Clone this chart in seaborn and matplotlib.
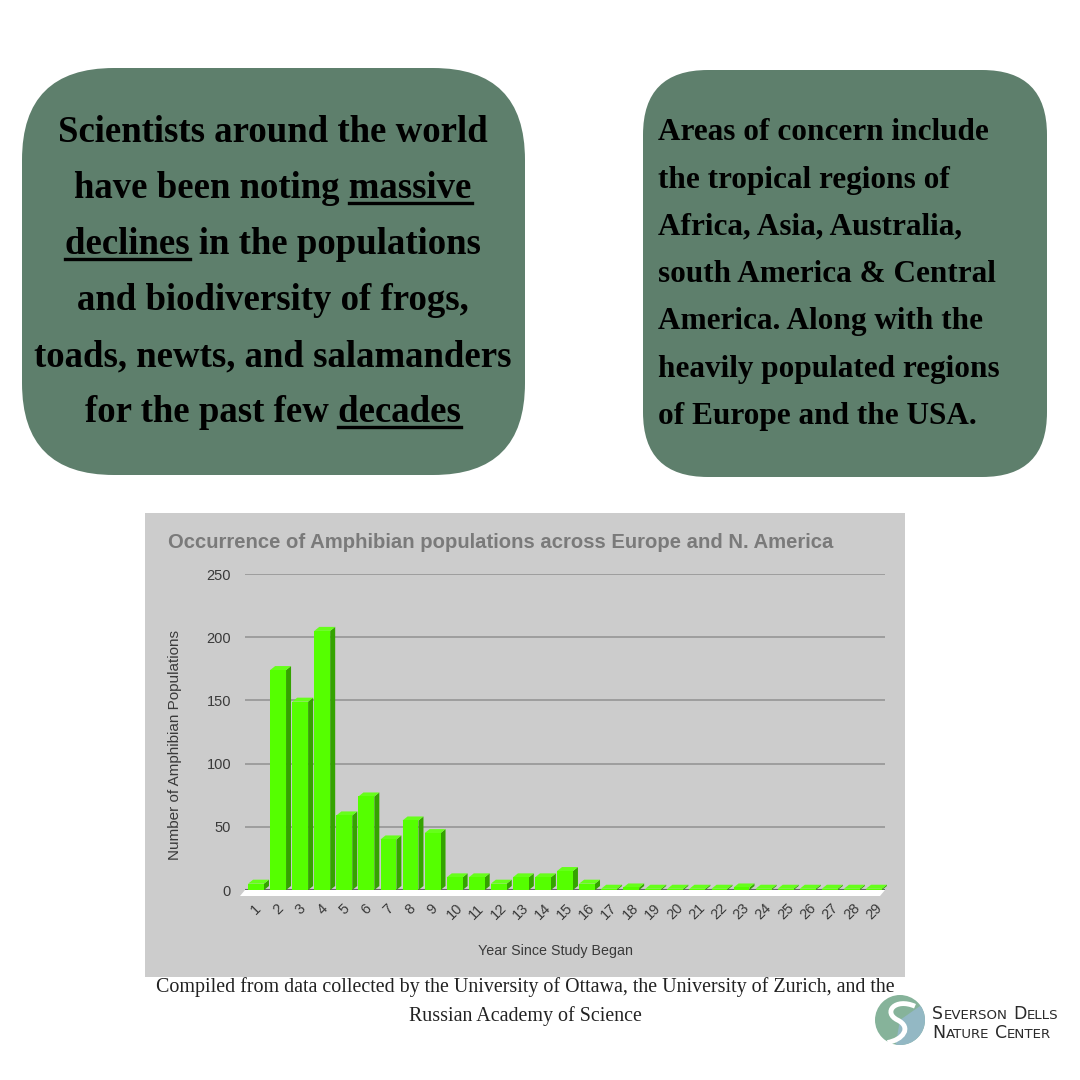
import matplotlib
matplotlib.use("Agg")
import numpy as np
import pandas as pd
import seaborn as sns
import matplotlib.pyplot as plt
from matplotlib.patches import FancyBboxPatch, Polygon, Rectangle, Circle, Wedge, PathPatch
from matplotlib.path import Path
from matplotlib.lines import Line2D

# chart data
years = ["1", "2", "3", "4", "5", "6", "7", "8", "9", "10", "11", "12", "13", "14", "15",
         "16", "17", "18", "19", "20", "21", "22", "23", "24", "25", "26", "27", "28", "29"]
populations = [5, 174, 149, 205, 59, 74, 40, 55, 45, 10, 10, 5, 10, 10, 15,
               5, 1, 2, 1, 1, 1, 1, 2, 1, 1, 1, 1, 1, 1]
y_ticks = [0, 50, 100, 150, 200, 250]

chart_title = "Occurrence of Amphibian populations across Europe and N. America"
x_label = "Year Since Study Began"
y_label = "Number of Amphibian Populations"

left_lines = ["Scientists around the world", "have been noting massive",
              "declines in the populations", "and biodiversity of frogs,",
              "toads, newts, and salamanders", "for the past few decades"]
# (line index, word, at start or end of line)
left_underlines = [(1, "massive", "end"), (2, "declines", "start"), (5, "decades", "end")]

right_lines = ["Areas of concern include", "the tropical regions of",
               "Africa, Asia, Australia,", "south America & Central",
               "America. Along with the", "heavily populated regions",
               "of Europe and the USA."]

footer_lines = ["Compiled from data collected by the University of Ottawa, the University of Zurich, and the",
                "Russian Academy of Science"]

logo_lines = [["Severson", "Dells"], ["Nature", "Center"]]

BOX_GREEN = "#5e7f6c"
SERIF = "Liberation Serif"
SANS = "Liberation Sans"
LEFT_SIZE = 26.5

plt.rcParams["font.family"] = SANS

W = 1080.0


def fx(px):
    return px / W


def fy(py):
    return 1 - py / W


fig = plt.figure(figsize=(10.8, 10.8), dpi=100)
fig.patch.set_facecolor("white")

# rounded green boxes
box1 = FancyBboxPatch((fx(22), fy(475)), fx(525) - fx(22), fy(68) - fy(475),
                      boxstyle="round,pad=0,rounding_size=0.085",
                      transform=fig.transFigure, facecolor=BOX_GREEN, edgecolor="none")
box2 = FancyBboxPatch((fx(643), fy(477)), fx(1047) - fx(643), fy(70) - fy(477),
                      boxstyle="round,pad=0,rounding_size=0.06",
                      transform=fig.transFigure, facecolor=BOX_GREEN, edgecolor="none")
fig.add_artist(box1)
fig.add_artist(box2)

left_texts = []
for i, line in enumerate(left_lines):
    t = fig.text(fx(273), fy(133 + 56 * i), line, ha="center", va="center",
                 fontsize=LEFT_SIZE, fontweight="bold", family=SERIF, color="black")
    left_texts.append(t)

for i, line in enumerate(right_lines):
    fig.text(fx(658), fy(133 + 47.2 * i), line, ha="left", va="center",
             fontsize=22.5, fontweight="bold", family=SERIF, color="black")

# gray chart panel
fig.add_artist(Rectangle((fx(145), fy(977)), fx(905) - fx(145), fy(513) - fy(977),
                         transform=fig.transFigure, facecolor="#cccccc", edgecolor="none",
                         zorder=0))

fig.text(fx(168), fy(542), chart_title, ha="left", va="center", color="#7a7a7a",
         fontsize=14.6, fontweight="bold", family=SANS)

ax = fig.add_axes([fx(245), fy(890), fx(885) - fx(245), fy(574) - fy(890)])
ax.set_facecolor("none")

df = pd.DataFrame({"year": years, "populations": populations})
sns.barplot(data=df, x="year", y="populations", color="#55ff00", saturation=1,
            width=0.72, ax=ax, zorder=3)

ax.set_ylim(0, 250)
ax.set_xlim(-0.5, len(years) - 0.5)
ax.set_yticks(y_ticks)
ax.set_yticklabels([str(v) for v in y_ticks])
ax.yaxis.grid(True, color="#9a9a9a", lw=1.3)
ax.set_axisbelow(True)
for s in ax.spines.values():
    s.set_visible(False)
ax.tick_params(axis="both", length=0)
ax.tick_params(axis="y", pad=10, labelsize=10.5, labelcolor="#3a3a3a")
ax.tick_params(axis="x", pad=8, labelsize=10.5, labelcolor="#3a3a3a")
for lab in ax.get_xticklabels():
    lab.set_rotation(45)
    lab.set_ha("center")
    lab.set_va("top")
ax.set_xlabel("")
ax.set_ylabel("")

fig.text(fx(555), fy(951), x_label, ha="center", va="center", fontsize=10.3, color="#3a3a3a")
fig.text(fx(175), fy(745), y_label, ha="center", va="center", rotation=90,
         fontsize=11, color="#3a3a3a")

# 3d look: side and top faces from the seaborn bars
fig.canvas.draw()
to_disp = ax.transData
to_data = ax.transData.inverted()
dx, dy = 5.0, 4.0
for p in list(ax.patches):
    x0 = p.get_x()
    x1 = x0 + p.get_width()
    h = p.get_height()
    a = to_disp.transform([(x0, 0), (x1, 0), (x1, h), (x0, h)])
    side = np.array([a[1], a[2], a[2] + [dx, dy], a[1] + [dx, dy]])
    top = np.array([a[3], a[2], a[2] + [dx, dy], a[3] + [dx, dy]])
    ax.add_patch(Polygon(to_data.transform(side), closed=True, facecolor="#34a300",
                         edgecolor="none", zorder=2.9, clip_on=False))
    ax.add_patch(Polygon(to_data.transform(top), closed=True, facecolor="#66ff1a",
                         edgecolor="none", zorder=2.9, clip_on=False))

# floor strip under the baseline
f = to_disp.transform([(-0.5, 0), (len(years) - 0.5, 0)])
floor = np.array([f[0] + [0, 0], f[1] + [0, 0], f[1] + [-dx, -6], f[0] + [-dx, -6]])
ax.add_patch(Polygon(to_data.transform(floor), closed=True, facecolor="white",
                     edgecolor="none", zorder=2.5, clip_on=False))
ax.axhline(0, color="#666666", lw=1.5, zorder=2.6)

# underlines under key words
renderer = fig.canvas.get_renderer()
for idx, word, where in left_underlines:
    t = left_texts[idx]
    bb = t.get_window_extent(renderer)
    tmp = fig.text(0, 0, word, fontsize=LEFT_SIZE, fontweight="bold", family=SERIF)
    wbb = tmp.get_window_extent(renderer)
    tmp.remove()
    _, _, d = renderer.get_text_width_height_descent(t.get_text(), t.get_fontproperties(), ismath=False)
    base = bb.y0 + d - 4
    if where == "end":
        xa, xb = bb.x1 - wbb.width, bb.x1
    else:
        xa, xb = bb.x0, bb.x0 + wbb.width
    fig.add_artist(Line2D([xa / W, xb / W], [base / W, base / W], color="black",
                          lw=2.4, transform=fig.transFigure))

# footer
for i, line in enumerate(footer_lines):
    fig.text(fx(525), fy(987 + 29 * i), line, ha="center", va="center",
             fontsize=14.4, family=SERIF, color="#222222")

# logo
cx, cy, r = fx(900), fy(1020), 25 / W
fig.add_artist(Circle((cx, cy), r, transform=fig.transFigure, facecolor="#86b39a",
                      edgecolor="none"))
fig.add_artist(Wedge((cx, cy), r, -100, 35, transform=fig.transFigure,
                     facecolor="#93b8c4", edgecolor="none"))
s_path = Path([(cx + 0.6 * r, cy + 0.55 * r), (cx - 0.2 * r, cy + 0.9 * r),
               (cx - 0.7 * r, cy + 0.3 * r), (cx - 0.1 * r, cy),
               (cx + 0.5 * r, cy - 0.3 * r), (cx + 0.1 * r, cy - 0.8 * r),
               (cx - 0.5 * r, cy - 0.9 * r)],
              [Path.MOVETO, Path.CURVE4, Path.CURVE4, Path.CURVE4,
               Path.CURVE4, Path.CURVE4, Path.CURVE4])
fig.add_artist(PathPatch(s_path, transform=fig.transFigure, facecolor="none",
                         edgecolor="white", lw=3.5))

# small caps logo text, built piece by piece
for row, words in enumerate(logo_lines):
    xpos = 932.0
    ypos = fy(1019 + 19 * row)
    for word in words:
        for piece, size in [(word[0], 12.5), (word[1:].upper(), 9.6)]:
            t = fig.text(xpos / W, ypos, piece, ha="left", va="baseline", fontsize=size,
                         color="#2a2a2a", family="DejaVu Sans")
            xpos += t.get_window_extent(renderer).width + 0.5
        xpos += 5

fig.savefig("out.png", dpi=100, facecolor="white")
